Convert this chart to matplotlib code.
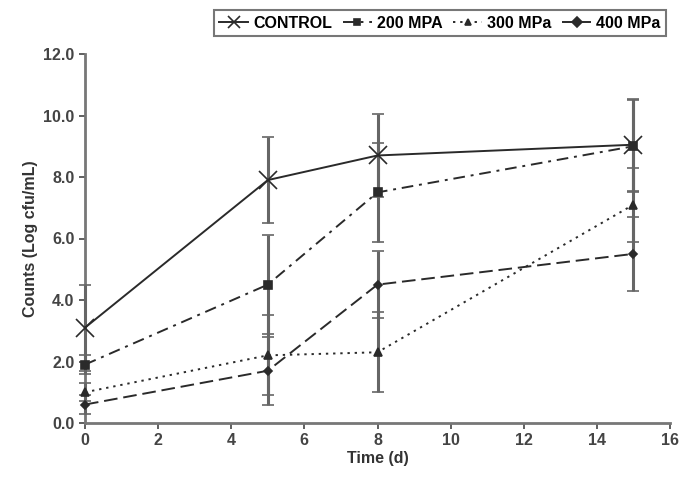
import matplotlib.pyplot as plt
import numpy as np

plt.rcParams['font.family'] = ['Liberation Sans', 'DejaVu Sans']
plt.rcParams['font.weight'] = 'bold'

days = [0, 5, 8, 15]
labels = ['CONTROL', '200 MPA', '300 MPa', '400 MPa']
control = [3.1, 7.9, 8.7, 9.05]
mpa200 = [1.9, 4.5, 7.5, 9.0]
mpa300 = [1.0, 2.2, 2.3, 7.1]
mpa400 = [0.6, 1.7, 4.5, 5.5]
err_control = [1.4, 1.4, 1.35, 1.5]
err_200 = [0.3, 1.6, 1.6, 1.5]
err_300 = [0.3, 1.3, 1.3, 1.2]
err_400 = [0.3, 1.1, 1.1, 1.2]

series = [control, mpa200, mpa300, mpa400]
errs = [err_control, err_200, err_300, err_400]
styles = [('-', 'x', 13), ((0, (6, 3, 1.5, 3)), 's', 6), ((0, (1.2, 2.5)), '^', 6), ((0, (7, 3)), 'D', 4)]

fig = plt.figure(figsize=(6.9, 4.83), dpi=100)
ax = fig.add_axes([85 / 690, 60 / 483, 585 / 690, 369 / 483])

for vals, err, (ls, mk, ms), lab in zip(series, errs, styles, labels):
    eb = ax.errorbar(days, vals, yerr=err, fmt='none', ecolor='#666666', elinewidth=2.2,
                     capsize=4, capthick=1.2, zorder=3)
    for part in eb.get_children():
        part.set_clip_on(False)
    ax.plot(days, vals, linestyle=ls, marker=mk, ms=ms, color='#2a2a2a', lw=1.4,
            mew=1.2, label=lab, zorder=4, clip_on=False)

ax.set_xlim(0, 16)
ax.set_ylim(0, 12)
ax.set_xticks(np.arange(0, 17, 2))
ax.set_yticks(np.arange(0, 12.1, 2))
ax.set_xticklabels([str(v) for v in range(0, 17, 2)], fontweight='bold')
ax.set_yticklabels([f'{v:.1f}' for v in np.arange(0, 12.1, 2)], fontweight='bold')
for s in ['top', 'right']:
    ax.spines[s].set_visible(False)
for s in ['left', 'bottom']:
    ax.spines[s].set_color('#777777')
    ax.spines[s].set_linewidth(2)
ax.tick_params(colors='#444444', labelsize=11.5, length=4, width=1.2)
ax.set_xlabel('Time (d)', fontsize=11.5, color='#333333', labelpad=2, fontweight='bold')
ax.set_ylabel('Counts (Log cfu/mL)', fontsize=11.5, color='#333333', fontweight='bold')

leg = fig.legend(loc='upper right', bbox_to_anchor=(666 / 690, 1 - 10 / 483), ncol=4,
                 frameon=True, fancybox=False, edgecolor='#555555',
                 prop={'size': 11.5, 'weight': 'bold'},
                 handlelength=1.8, handletextpad=0.3, columnspacing=0.7,
                 borderpad=0.35, borderaxespad=0)
leg.get_frame().set_linewidth(1.5)
leg.legend_handles[0].set_markersize(8)
for h in leg.legend_handles[1:]:
    h.set_markersize(5)

fig.savefig('out.png', dpi=100)
